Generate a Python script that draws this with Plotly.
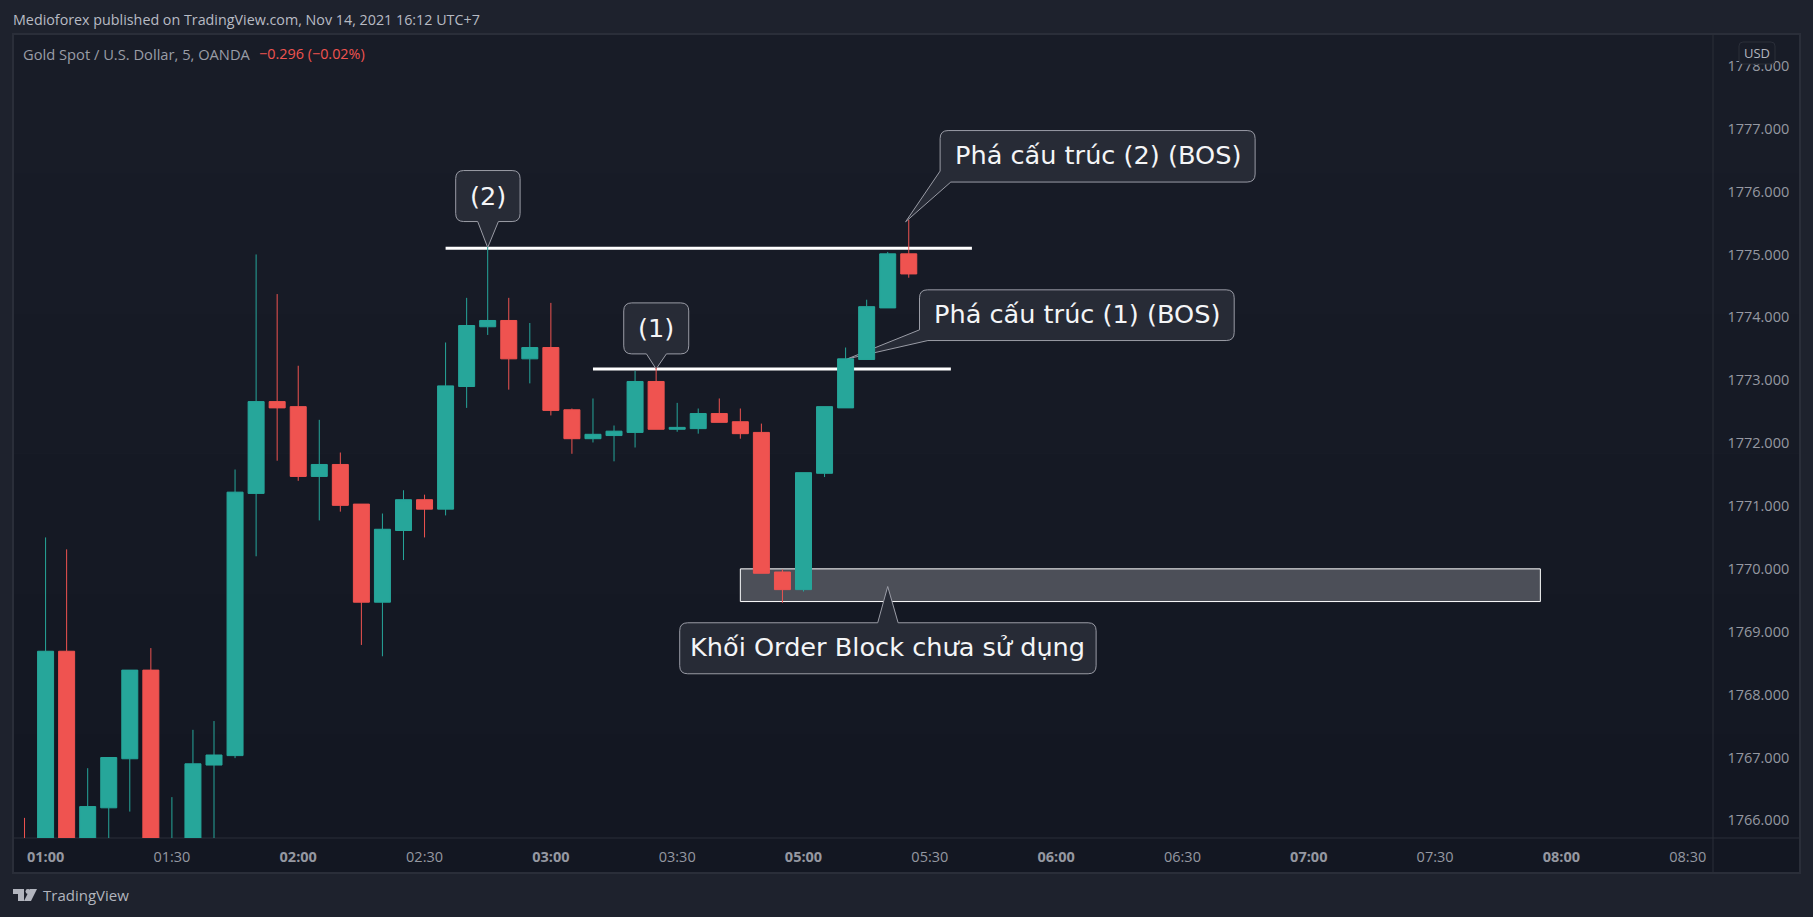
import math
import plotly.graph_objects as go

bar_times = ["00:55","01:00","01:05","01:10","01:15","01:20","01:25","01:30","01:35","01:40","01:45","01:50",
             "01:55","02:00","02:05","02:10","02:15","02:20","02:25","02:30","02:35","02:40","02:45","02:50",
             "02:55","03:00","03:05","03:10","03:15","03:20","03:25","03:30","03:35","03:40","03:45","03:50",
             "03:55","05:00","05:05","05:10","05:15","05:20","05:25"]
opens = [1765.5,1765.0,1768.69,1765.4,1766.2,1766.98,1768.39,1765.4,1765.5,1766.88,1767.03,1771.20,
         1772.66,1772.58,1771.47,1771.66,1771.03,1769.47,1770.61,1771.10,1770.95,1772.90,1773.85,1773.95,
         1773.34,1773.52,1772.53,1772.07,1772.12,1772.17,1772.98,1772.22,1772.23,1772.47,1772.34,1772.17,
         1769.95,1769.67,1771.52,1772.56,1773.33,1774.15,1775.01]
highs = [1766.04,1770.50,1770.31,1766.83,1767.0,1768.39,1768.74,1766.37,1767.44,1767.58,1771.58,1775.0,
         1774.37,1773.23,1772.37,1771.85,1771.03,1770.88,1771.25,1771.18,1773.60,1774.31,1775.12,1774.31,
         1773.91,1774.23,1772.55,1772.71,1772.28,1773.15,1773.2,1772.64,1772.55,1772.71,1772.55,1772.31,
         1769.99,1771.53,1772.58,1773.52,1774.28,1775.04,1775.55]
lows = [1765.2,1764.9,1765.3,1765.2,1765.5,1766.14,1765.3,1765.3,1765.4,1765.5,1766.99,1770.2,
        1771.72,1771.40,1770.77,1770.91,1768.79,1768.61,1770.14,1770.50,1770.85,1772.56,1773.72,1772.85,
        1772.95,1772.44,1771.83,1772.01,1771.71,1771.93,1772.22,1772.18,1772.15,1772.33,1772.07,1769.93,
        1769.46,1769.64,1771.46,1772.56,1773.33,1774.15,1774.63]
closes = [1765.3,1768.69,1765.4,1766.22,1767.0,1768.39,1765.4,1765.6,1766.90,1767.04,1771.22,1772.66,
          1772.56,1771.47,1771.66,1771.01,1769.47,1770.63,1771.10,1770.95,1772.91,1773.87,1773.95,1773.34,
          1773.52,1772.52,1772.07,1772.14,1772.19,1772.98,1772.22,1772.25,1772.47,1772.33,1772.15,1769.93,
          1769.67,1771.53,1772.58,1773.34,1774.17,1775.01,1774.69]
bar_index = list(range(-1, 42))

price_ticks = [1766,1767,1768,1769,1770,1771,1772,1773,1774,1775,1776,1777,1778]
time_tick_index = [0,6,12,18,24,30,36,42,48,54,60,66,72,78]
time_tick_labels = ["<b>01:00</b>","01:30","<b>02:00</b>","02:30","<b>03:00</b>","03:30","<b>05:00</b>",
                    "05:30","<b>06:00</b>","06:30","<b>07:00</b>","07:30","<b>08:00</b>","08:30"]

TEAL, RED = "#26a69a", "#ef5350"
PAGE, FRAME = "#1e222d", "#2a2e39"
W, H = 1813, 917
L, R, T, B = 14, 1713, 35, 838
SANS = "Open Sans"

def px(x): return (x - L) / (R - L)
def py(y): return (B - y) / (B - T)

fig = go.Figure(go.Candlestick(
    x=bar_index, open=opens, high=highs, low=lows, close=closes,
    text=bar_times, hoverinfo="text",
    whiskerwidth=0,
    increasing=dict(line=dict(color=TEAL, width=1), fillcolor=TEAL),
    decreasing=dict(line=dict(color=RED, width=1), fillcolor=RED),
))

shapes = []
# pane background gradient (top #181c27 to bottom #131722)
steps = 6
for k in range(steps):
    y0 = 34 + (873 - 34) * k / steps
    y1 = 34 + (873 - 34) * (k + 1) / steps
    c = (24 - k, 28 - k, 39 - k)
    shapes.append(dict(type="rect", xref="paper", yref="paper", x0=px(13), x1=px(1800), y0=py(y0), y1=py(y1),
                       fillcolor="rgb(%d,%d,%d)" % c, line=dict(width=0), layer="below"))
shapes.append(dict(type="rect", xref="paper", yref="paper", x0=px(13), x1=px(1800), y0=py(34), y1=py(873),
                   line=dict(color=FRAME, width=2), layer="below"))
shapes.append(dict(type="line", xref="paper", yref="paper", x0=px(R), x1=px(R), y0=py(34), y1=py(873),
                   line=dict(color=FRAME, width=1), layer="below"))
shapes.append(dict(type="line", xref="paper", yref="paper", x0=px(13), x1=px(1800), y0=py(B), y1=py(B),
                   line=dict(color=FRAME, width=1), layer="below"))

# order block and structure lines (bar index / price)
shapes.append(dict(type="rect", x0=33, x1=71, y0=1769.48, y1=1770.0, xref="x", yref="y",
                   fillcolor="#4c4f58", line=dict(color="#ffffff", width=1), layer="below"))
shapes.append(dict(type="line", x0=19, x1=44, y0=1775.10, y1=1775.10, xref="x", yref="y",
                   line=dict(color="#ffffff", width=3), layer="below"))
shapes.append(dict(type="line", x0=26, x1=43, y0=1773.18, y1=1773.18, xref="x", yref="y",
                   line=dict(color="#ffffff", width=3), layer="below"))

def rounded(corners):
    n = len(corners)
    parts = []
    for k, (x, y, r) in enumerate(corners):
        if r == 0:
            parts.append(("L" if parts else "M") + f" {x:.1f},{y:.1f}")
            continue
        ax, ay, _ = corners[k - 1]
        bx, by, _ = corners[(k + 1) % n]
        da = math.hypot(ax - x, ay - y)
        db = math.hypot(bx - x, by - y)
        p0 = (x + (ax - x) * r / da, y + (ay - y) * r / da)
        p1 = (x + (bx - x) * r / db, y + (by - y) * r / db)
        parts.append(("L" if parts else "M") + f" {p0[0]:.1f},{p0[1]:.1f}")
        parts.append(f"Q {x:.1f},{y:.1f} {p1[0]:.1f},{p1[1]:.1f}")
    return " ".join(parts) + " Z"

def callout(text, ax, ay, corners, tx, ty):
    shapes.append(dict(type="path", xref="x", yref="y", xsizemode="pixel", ysizemode="pixel",
                       xanchor=ax, yanchor=ay, path=rounded(corners),
                       fillcolor="#272b36", line=dict(color="#9a9ca6", width=1), layer="below"))
    annotations.append(dict(text=text, x=ax, y=ay, xref="x", yref="y", xshift=tx, yshift=ty,
                            showarrow=False, xanchor="center", yanchor="middle",
                            font=dict(family="DejaVu Sans", size=25.6, color="#f4f5f7")))

annotations = []
r = 8
callout("(2)", 21, 1775.11,
        [(-32, 77, r), (32.4, 77, r), (32.4, 26, r), (10.7, 26, 0), (0, 0, 0), (-10, 26, 0), (-32, 26, r)], 0, 52)
callout("(1)", 29, 1773.18,
        [(-32.4, 66, r), (32.6, 66, r), (32.6, 15, r), (10.3, 15, 0), (0, 0, 0), (-9.7, 15, 0), (-32.4, 15, r)], 0, 41)
callout("Phá cấu trúc (2) (BOS)", 40.85, 1775.52,
        [(34.5, 91.2, r), (349.5, 91.2, r), (349.5, 39.7, r), (45.2, 39.7, 0), (0, 0, 0), (34.5, 50.7, 0)], 192, 67)
callout("Phá cấu trúc (1) (BOS)", 38.09, 1773.34,
        [(72, 69, r), (386.7, 69, r), (386.7, 18.3, r), (80.4, 18.3, 0), (0, 0, 0), (72, 29, 0)], 229, 45)
callout("Khối Order Block chưa sử dụng", 40, 1769.72,
        [(-208, -36.3, r), (-10, -36.3, 0), (0, 0, 0), (10.4, -36.3, 0), (208.4, -36.3, r), (208.4, -87.3, r), (-208, -87.3, r)], 0, -61)

def page_text(text, x, y, size, color, anchor="left"):
    annotations.append(dict(text=text, x=px(x), y=py(y), xref="paper", yref="paper", showarrow=False,
                            xanchor=anchor, yanchor="middle", font=dict(family=SANS, size=size, color=color)))

page_text("Medioforex published on TradingView.com, Nov 14, 2021 16:12 UTC+7", 11, 20, 14.3, "#b8bbc4")
page_text("Gold Spot / U.S. Dollar, 5, OANDA", 21, 54, 14.7, "#9a9da6")
page_text("\u22120.296 (\u22120.02%)", 257, 54, 14.4, RED)
page_text("TradingView", 41, 895, 15, "#b2b5be")

# USD badge
def paper_path(corners, ax, ay, fill, line=None):
    shapes.append(dict(type="path", xref="paper", yref="paper", xsizemode="pixel", ysizemode="pixel",
                       xanchor=px(ax), yanchor=py(ay), path=rounded(corners), fillcolor=fill,
                       line=dict(color=line, width=1) if line else dict(width=0), layer="above"))

paper_path([(0, 22, 4), (36, 22, 4), (36, 0, 4), (0, 0, 4)], 1739, 64, "#181c27", FRAME)
page_text("USD", 1757, 53, 13, "#b2b5be", anchor="center")

# TradingView logo
paper_path([(0, 12, 0), (11, 12, 0), (11, 0, 0), (5, 0, 0), (5, 7, 0), (0, 7, 0)], 13, 901, "#b2b5be")
paper_path([(0, 5, 2.4), (5, 5, 2.4), (5, 0, 2.4), (0, 0, 2.4)], 25.5, 894, "#b2b5be")
paper_path([(5, 12, 0), (12, 12, 0), (6, 0, 0), (-1, 0, 0)], 25, 901, "#b2b5be")

axis_font = dict(family=SANS, size=14.5, color="#9598a1")
fig.update_layout(
    width=W, height=H, autosize=False,
    margin=dict(l=L, r=W - R, t=T, b=H - B, pad=0),
    paper_bgcolor=PAGE, plot_bgcolor="rgba(0,0,0,0)",
    showlegend=False, boxgap=0.24, boxgroupgap=0,
    shapes=shapes, annotations=annotations,
    xaxis=dict(range=[-1.5, 79.2], rangeslider=dict(visible=False), showgrid=False, zeroline=False,
               tickmode="array", tickvals=time_tick_index, ticktext=time_tick_labels, tickfont=axis_font,
               ticks="outside", ticklen=6, tickcolor="rgba(0,0,0,0)", showline=False),
    yaxis=dict(range=[1765.72, 1778.49], side="right", showgrid=False, zeroline=False,
               tickmode="array", tickvals=price_ticks, tickformat=".3f", tickfont=axis_font,
               ticks="outside", ticklen=10.5, tickcolor="rgba(0,0,0,0)", showline=False),
)

fig.write_html("out.html", config=dict(displayModeBar=False),
               post_script="document.body.style.margin='0';document.body.style.background='%s';" % PAGE)
